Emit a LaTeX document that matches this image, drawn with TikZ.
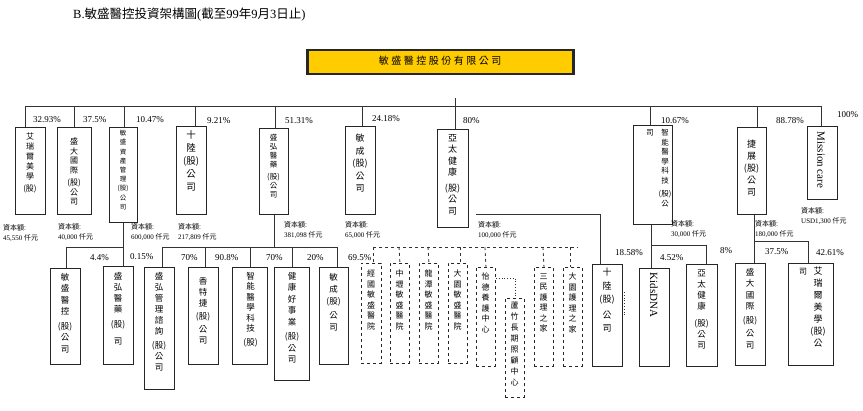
\documentclass[tikz,border=0pt]{standalone}
\usepackage{fontspec}
\setmainfont{Liberation Serif}
\newfontfamily\cjk{Noto Sans CJK TC}
\newfontfamily\cjkwide{Noto Sans CJK TC}[LetterSpace=25]
\definecolor{topyellow}{RGB}{255,204,0}

\tikzset{
  box/.style={draw=black!85, line width=1pt, anchor=north west, inner sep=0pt},
  dbox/.style={box, dashed, line width=0.9pt},
  line/.style={draw=black!80, line width=0.8pt},
  dline/.style={line, dashed},
  vt/.style 2 args={font=\cjk\fontsize{#1}{#2}\selectfont, align=center, anchor=north, inner sep=0pt},
  pct/.style={font=\fontsize{9}{9}\selectfont, anchor=west, inner sep=0pt},
  capital/.style={font=\fontsize{7}{10.5}\selectfont, align=left, anchor=north west, inner sep=0pt},
}

\begin{document}
\begin{tikzpicture}[x=1pt, y=-1pt]
\useasboundingbox (0,0) rectangle (863,411);

% title and holding company
\node [anchor=west, inner sep=0pt, font=\fontsize{12.5}{12.5}\selectfont] (title) at (73,15)
  {B.{\cjk 敏盛醫控投資架構圖}({\cjk 截至}99{\cjk 年}9{\cjk 月}3{\cjk 日止})};
\node [box, fill=topyellow, line width=2.5pt, minimum width=266, minimum height=24] (top) at (306,49) {};
\node [font=\cjkwide\fontsize{10}{10}\selectfont, inner sep=0pt] (topt) at (440,61) {敏盛醫控股份有限公司};

% first level
\node [box, minimum width=30, minimum height=87] (A1) at (15,127) {};
\node [vt={8}{10}] (A1t) at (30,133) {艾\\瑞\\爾\\美\\學\\[2pt](股)};
\node [box, minimum width=34, minimum height=87] (A2) at (57,127) {};
\node [vt={8}{9.5}] (A2t) at (74,138) {盛\\大\\國\\際\\[3pt](股)\\公\\司};
\node [box, minimum width=28, minimum height=95] (A3) at (109,127) {};
\node [vt={6.5}{9.2}] (A3t) at (123,130) {敏\\盛\\資\\產\\管\\理\\(股)\\公\\司};
\node [box, minimum width=30, minimum height=88] (A4) at (176,126) {};
\node [vt={9.5}{13}] (A4t) at (191,130) {十\\陸\\(股)\\公\\司};
\node [box, minimum width=29, minimum height=86] (A5) at (259,128) {};
\node [vt={7.5}{9}] (A5t) at (273.5,134) {盛\\弘\\醫\\藥\\[3pt](股)\\公\\司};
\node [box, minimum width=30, minimum height=88] (A6) at (345,126) {};
\node [vt={9}{12.5}] (A6t) at (360,134) {敏\\成\\(股)\\公\\司};
\node [box, minimum width=31, minimum height=98] (A7) at (437,129) {};
\node [vt={9}{11.5}] (A7t) at (452.5,134) {亞\\太\\健\\康\\[4pt](股)\\公\\司};
\node [box, minimum width=39, minimum height=99] (A8) at (633,125) {};
\node [vt={7.5}{9.5}] (A8t) at (665,129) {智\\能\\醫\\學\\科\\技\\[4pt](股)\\公};
\node [vt={7.5}{9.5}] (A8s) at (650,129) {司};
\node [box, minimum width=29, minimum height=87] (A9) at (737,127) {};
\node [vt={9}{12}] (A9t) at (751.5,140) {捷\\展\\(股)\\公\\司};
\node [box, minimum width=30, minimum height=73] (A10) at (807,126) {};
\node [rotate=-90, inner sep=0pt, font=\fontsize{11}{11}\selectfont] (A10t) at (821,160) {Mission care};

% shares, first level
\node [pct] (p1) at (33,120) {32.93\%};
\node [pct] (p2) at (83,120) {37.5\%};
\node [pct] (p3) at (136,120) {10.47\%};
\node [pct] (p4) at (207,121) {9.21\%};
\node [pct] (p5) at (285,121) {51.31\%};
\node [pct] (p6) at (372,119) {24.18\%};
\node [pct] (p7) at (463,121) {80\%};
\node [pct] (p8) at (661,121) {10.67\%};
\node [pct] (p9) at (776,121) {88.78\%};
\node [pct] (p10) at (837,115) {100\%};

% capital
\node [capital] (c1) at (3,224) {{\cjk 資本額:}\\45,550 {\cjk 仟元}};
\node [capital] (c2) at (58,223) {{\cjk 資本額:}\\40,000 {\cjk 仟元}};
\node [capital] (c3) at (131,223) {{\cjk 資本額:}\\600,000 {\cjk 仟元}};
\node [capital] (c4) at (178,223) {{\cjk 資本額:}\\217,809 {\cjk 仟元}};
\node [capital] (c5) at (284,221) {{\cjk 資本額:}\\381,098 {\cjk 仟元}};
\node [capital] (c6) at (345,221) {{\cjk 資本額:}\\65,000 {\cjk 仟元}};
\node [capital] (c7) at (478,221) {{\cjk 資本額:}\\100,000 {\cjk 仟元}};
\node [capital] (c8) at (671,220) {{\cjk 資本額:}\\30,000 {\cjk 仟元}};
\node [capital] (c9) at (755,220) {{\cjk 資本額:}\\180,000 {\cjk 仟元}};
\node [capital] (c10) at (801,207) {{\cjk 資本額:}\\USD1,300 {\cjk 仟元}};

% second level
\node [box, minimum width=30, minimum height=96] (B1) at (50,268) {};
\node [vt={8.5}{11.5}] (B1t) at (65,273) {敏\\盛\\醫\\控\\[3pt](股)\\公\\司};
\node [box, minimum width=30, minimum height=98] (B2) at (103,266) {};
\node [vt={8.5}{11}] (B2t) at (118,272) {盛\\弘\\醫\\藥\\[4pt](股)\\[6pt]司};
\node [box, minimum width=30, minimum height=122] (B3) at (144,267) {};
\node [vt={8.5}{11}] (B3t) at (159,272) {盛\\弘\\管\\理\\諮\\詢\\[3pt](股)\\公\\司};
\node [box, minimum width=30, minimum height=97] (B4) at (188,267) {};
\node [vt={8.5}{11}] (B4t) at (203,277) {香\\特\\捷\\[2pt](股)\\[2pt]公\\司};
\node [box, minimum width=35, minimum height=97] (B5) at (232,267) {};
\node [vt={8.5}{10.5}] (B5t) at (250.5,272) {智\\能\\醫\\學\\科\\技\\[3pt](股)};
\node [box, minimum width=35, minimum height=113] (B6) at (274,267) {};
\node [vt={8.5}{11.5}] (B6t) at (292,272) {健\\康\\好\\事\\業\\[3pt](股)\\公\\司};
\node [box, minimum width=29, minimum height=97] (B7) at (319,267) {};
\node [vt={8.5}{12}] (B7t) at (333.5,273) {敏\\成\\(股)\\[2pt]公\\司};

\node [pct] (q1) at (90,258) {4.4\%};
\node [pct] (q2) at (130,257) {0.15\%};
\node [pct] (q3) at (181,258) {70\%};
\node [pct] (q4) at (215,258) {90.8\%};
\node [pct] (q5) at (266,258) {70\%};
\node [pct] (q6) at (307,258) {20\%};
\node [pct] (q7) at (348,258) {69.5\%};

% hospitals and care homes
\node [dbox, minimum width=20, minimum height=100] (C1) at (361,263) {};
\node [vt={8}{10.5}] (C1t) at (371,270) {經\\國\\敏\\盛\\醫\\院};
\node [dbox, minimum width=19, minimum height=100] (C2) at (390,263) {};
\node [vt={8}{10.5}] (C2t) at (399.5,270) {中\\壢\\敏\\盛\\醫\\院};
\node [dbox, minimum width=19, minimum height=100] (C3) at (419,263) {};
\node [vt={8}{10.5}] (C3t) at (428.5,270) {龍\\潭\\敏\\盛\\醫\\院};
\node [dbox, minimum width=19, minimum height=100] (C4) at (448,263) {};
\node [vt={8}{10.5}] (C4t) at (457.5,270) {大\\園\\敏\\盛\\醫\\院};
\node [dbox, minimum width=19, minimum height=99] (C5) at (476,267) {};
\node [vt={8}{10.5}] (C5t) at (485.5,273) {怡\\德\\養\\護\\中\\心};
\node [dbox, minimum width=19, minimum height=99] (C6) at (505,298) {};
\node [vt={8}{11}] (C6t) at (514.5,302) {蘆\\竹\\長\\期\\照\\顧\\中\\心};
\node [dbox, minimum width=19, minimum height=99] (C7) at (534,267) {};
\node [vt={8}{10.5}] (C7t) at (543.5,273) {三\\民\\護\\理\\之\\家};
\node [dbox, minimum width=19, minimum height=99] (C8) at (563,267) {};
\node [vt={8}{10.5}] (C8t) at (572.5,273) {大\\園\\護\\理\\之\\家};

% right side, second level
\node [box, minimum width=30, minimum height=102] (D1) at (592,264) {};
\node [vt={9}{13.5}] (D1t) at (607,268) {十\\陸\\(股)\\[2pt]公\\司};
\node [box, minimum width=30, minimum height=98] (D2) at (639,268) {};
\node [rotate=-90, inner sep=0pt, font=\fontsize{11}{11}\selectfont] (D2t) at (654,295) {KidsDNA};
\node [box, minimum width=31, minimum height=102] (D3) at (686,264) {};
\node [vt={8.5}{11}] (D3t) at (701.5,270) {亞\\太\\健\\康\\[6pt](股)\\公\\司};
\node [box, minimum width=30, minimum height=102] (D4) at (735,263) {};
\node [vt={8.5}{11.5}] (D4t) at (750,268) {盛\\大\\國\\際\\[2pt](股)\\[2pt]公\\司};
\node [box, minimum width=45, minimum height=102] (D5) at (788,263) {};
\node [vt={9}{12}] (D5t) at (818,267) {艾\\瑞\\爾\\美\\學\\(股)\\公};
\node [vt={8}{10}] (D5s) at (803,268) {司};

\node [pct] (r1) at (615,253) {18.58\%};
\node [pct] (r2) at (660,258) {4.52\%};
\node [pct] (r3) at (720,251) {8\%};
\node [pct] (r4) at (765,252) {37.5\%};
\node [pct] (r5) at (816,253) {42.61\%};

% main bus
\coordinate (t0) at (455,98);
\coordinate (b1) at (25,106);
\coordinate (b2) at (74,106);
\coordinate (b3) at (124,106);
\coordinate (b4) at (195,106);
\coordinate (b5) at (275,106);
\coordinate (b6) at (362,106);
\coordinate (b8) at (650,106);
\coordinate (b9) at (757,106);
\coordinate (b10) at (821,106);
\draw [line] (b1) -- (b10);
\draw [line] (t0) -- (t0 |- A7.north);
\draw [line] (b1) -- (b1 |- A1.north);
\draw [line] (b2) -- (b2 |- A2.north);
\draw [line] (b3) -- (b3 |- A3.north);
\draw [line] (b4) -- (b4 |- A4.north);
\draw [line] (b5) -- (b5 |- A5.north);
\draw [line] (b6) -- (b6 |- A6.north);
\draw [line] (b8) -- (b8 |- A8.north);
\draw [line] (b9) -- (b9 |- A9.north);
\draw [line] (b10) -- (b10 |- A10.north);

% branches under the first level
\coordinate (k3) at (123,247);
\coordinate (k3b) at (66,247);
\draw [line] (k3 |- A3.south) -- (k3 |- B2.north);
\draw [line] (k3) -- (k3b) -- (k3b |- B1.north);

\coordinate (k5) at (274,247);
\coordinate (d1) at (162,247);
\coordinate (d2) at (205,247);
\coordinate (d3) at (250,247);
\coordinate (d4) at (292,247);
\coordinate (d5) at (337,247);
\draw [line] (k5 |- A5.south) -- (k5);
\draw [line] (d1) -- (d5);
\draw [line] (d1) -- (d1 |- B3.north);
\draw [line] (d2) -- (d2 |- B4.north);
\draw [line] (d3) -- (d3 |- B5.north);
\draw [line] (d4) -- (d4 |- B6.north);
\draw [line] (d5) -- (d5 |- B7.north);

\coordinate (e1) at (373,247);
\coordinate (e8) at (578,247);
\draw [dline] (e1) -- (e8);
\draw [dline] (e1) -- (e1 |- C1.north);
\draw [dline] (399,247) -- (C2.north);
\draw [dline] (428,247) -- (C3.north);
\draw [dline] (460,247) -- (460,263);
\draw [dline] (485,247) -- (C5.north);
\draw [dline] (543,247) -- (C7.north);
\draw [dline] (570,247) -- (570,267);
\draw [line, dotted] ([yshift=-11pt]C5.north east) -| (C6.north);

\coordinate (a7) at (476,214);
\coordinate (a7b) at (600,214);
\draw [line] (a7) -- (a7b) -- (a7b |- D1.north);
\draw [line, dotted] ([xshift=1.5pt,yshift=-28pt]D1.north east) -- ++(0,23);

\coordinate (f8) at (651,245);
\coordinate (f8b) at (706,245);
\draw [line] (f8 |- A8.south) -- (f8 |- D2.north);
\draw [line] (f8) -- (f8b) -- (f8b |- D3.north);

\coordinate (g9) at (754,241);
\coordinate (g9b) at (808,241);
\draw [line] (g9 |- A9.south) -- (g9 |- D4.north);
\draw [line] (g9) -- (g9b) -- (g9b |- D5.north);
\end{tikzpicture}
\end{document}
